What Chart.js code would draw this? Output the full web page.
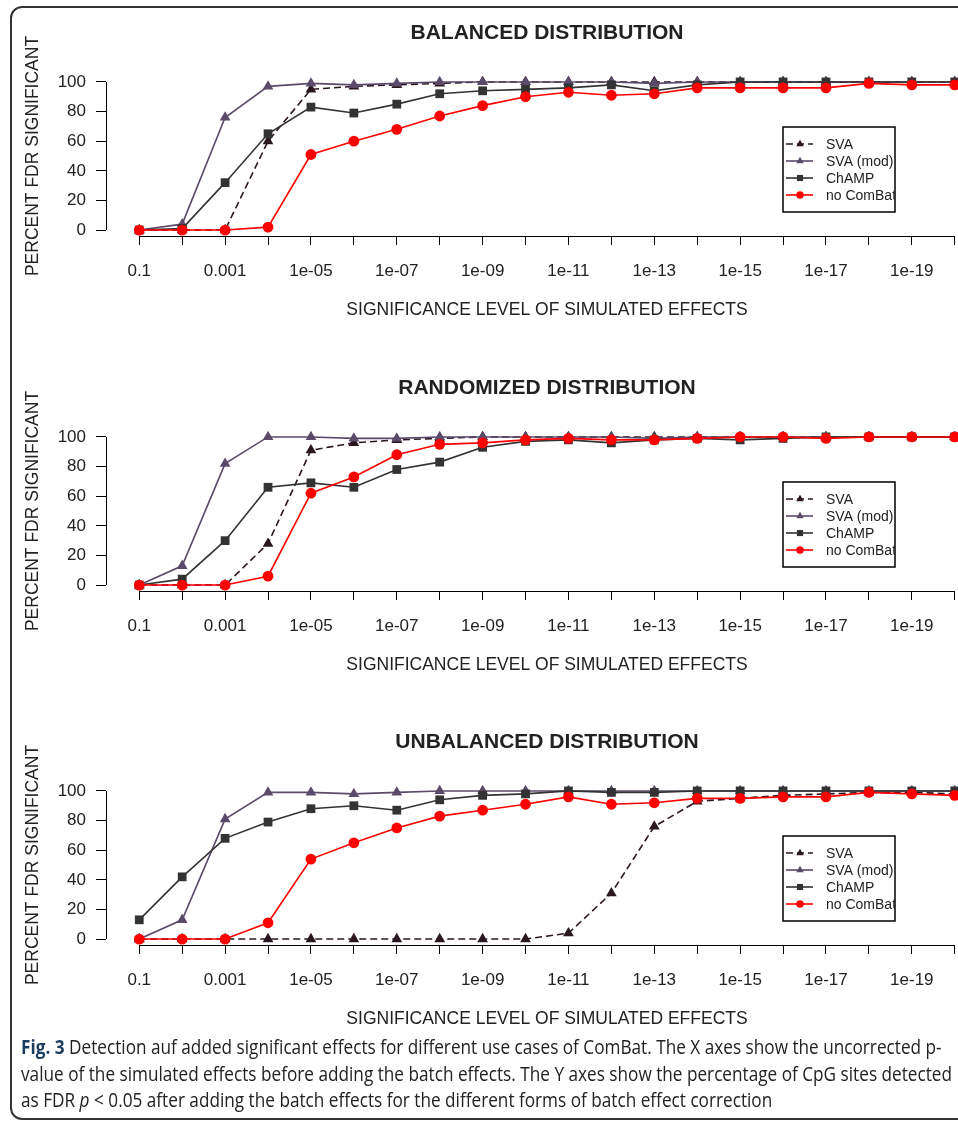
<!DOCTYPE html>
<html>
<head>
<meta charset="utf-8">
<script src="https://cdn.jsdelivr.net/npm/chart.js@4.4.0/dist/chart.umd.min.js"></script>
<style>
  html, body { margin: 0; padding: 0; background: #fff; }
  body { width: 958px; height: 1122px; overflow: hidden; position: relative; }
  #frame { position: absolute; left: 10px; top: 6px; width: 1000px; height: 1114px;
           border: 2px solid #333; border-radius: 12px; box-sizing: border-box; }
  .panel { position: absolute; left: 0; width: 1000px; height: 355px; }
  .ln { position: absolute; left: 21px; white-space: nowrap; font-family: 'Open Sans', sans-serif;
        font-size: 20px; line-height: 26px; color: #222; transform-origin: 0 50%; display: inline-block; }
  .ln b { color: #1d3d5e; }
</style>
</head>
<body>
<div id="frame"></div>
<div class="panel" style="top:0px"><canvas id="chart1" width="1000" height="355"></canvas></div>
<div class="panel" style="top:355px"><canvas id="chart2" width="1000" height="355"></canvas></div>
<div class="panel" style="top:709px"><canvas id="chart3" width="1000" height="355"></canvas></div>
<div class="ln" style="top:1034px"><b>Fig. 3</b> Detection auf added significant effects for different use cases of ComBat. The X axes show the uncorrected p-</div>
<div class="ln" style="top:1061px">value of the simulated effects before adding the batch effects. The Y axes show the percentage of CpG sites detected</div>
<div class="ln" style="top:1087px">as FDR <i>p</i> &lt; 0.05 after adding the batch effects for the different forms of batch effect correction</div>
<script>
// x categories (p-value of simulated effects)
const pLabels = ['0.1', '0.01', '0.001', '1e-04', '1e-05', '1e-06', '1e-07', '1e-08', '1e-09', '1e-10',
                 '1e-11', '1e-12', '1e-13', '1e-14', '1e-15', '1e-16', '1e-17', '1e-18', '1e-19', '1e-20'];
const yTicks = [0, 10, 20, 30, 40, 50, 60, 70, 80, 90, 100];
const seriesNames = ['SVA', 'SVA (mod)', 'ChAMP', 'no ComBat'];
const panelTitles = ['BALANCED DISTRIBUTION', 'RANDOMIZED DISTRIBUTION', 'UNBALANCED DISTRIBUTION'];

// balanced
const balSva    = [0, 0, 0, 60, 95, 97, 98, 99, 100, 100, 100, 100, 100, 100, 100, 100, 100, 100, 100, 100];
const balSvaMod = [0, 4, 76, 97, 99, 98, 99, 100, 100, 100, 100, 100, 99, 100, 100, 100, 100, 100, 100, 100];
const balChamp  = [0, 1, 32, 65, 83, 79, 85, 92, 94, 95, 96, 98, 94, 98, 100, 100, 100, 100, 100, 100];
const balNoCb   = [0, 0, 0, 2, 51, 60, 68, 77, 84, 90, 93, 91, 92, 96, 96, 96, 96, 99, 98, 98];
// randomized
const rndSva    = [0, 0, 0, 28, 91, 96, 98, 99, 100, 100, 100, 100, 100, 100, 100, 100, 100, 100, 100, 100];
const rndSvaMod = [0, 13, 82, 100, 100, 99, 99, 100, 100, 100, 100, 100, 99, 100, 100, 100, 100, 100, 100, 100];
const rndChamp  = [0, 4, 30, 66, 69, 66, 78, 83, 93, 97, 98, 96, 98, 99, 98, 99, 100, 100, 100, 100];
const rndNoCb   = [0, 0, 0, 6, 62, 73, 88, 95, 96, 98, 99, 98, 98, 99, 100, 100, 99, 100, 100, 100];
// unbalanced
const unbSva    = [0, 0, 0, 0, 0, 0, 0, 0, 0, 0, 4, 31, 76, 93, 95, 97, 98, 99, 99, 98];
const unbSvaMod = [0, 13, 81, 99, 99, 98, 99, 100, 100, 100, 100, 100, 100, 100, 100, 100, 100, 100, 100, 100];
const unbChamp  = [13, 42, 68, 79, 88, 90, 87, 94, 97, 98, 100, 99, 99, 100, 100, 100, 100, 100, 100, 100];
const unbNoCb   = [0, 0, 0, 11, 54, 65, 75, 83, 87, 91, 96, 91, 92, 95, 95, 96, 96, 99, 98, 97];

const FONT = "'Liberation Sans', Arial, Helvetica, sans-serif";
Chart.defaults.font.family = FONT;
Chart.defaults.color = '#000';

const styles = [
  { color: '#2b1620', dash: [7, 4], point: 'triangle', radius: 6.2, order: 4 },
  { color: '#5c4a6b', dash: [], point: 'triangle', radius: 6.2, order: 3 },
  { color: '#333333', dash: [], point: 'rect', radius: 6.2, order: 2 },
  { color: '#ff0000', dash: [], point: 'circle', radius: 5.4, order: 1 }
];

// R-like axes, titles and boxed legend
const rPlot = {
  id: 'rPlot',
  afterDraw(chart, args, opts) {
    const { ctx, chartArea, scales: { x, y } } = chart;
    ctx.save();
    ctx.strokeStyle = '#000';
    ctx.lineWidth = 1;
    ctx.beginPath();
    const yb = Math.round(chartArea.bottom) + 0.5;
    ctx.moveTo(x.getPixelForValue(0), yb);
    ctx.lineTo(x.getPixelForValue(pLabels.length - 1), yb);
    const xl = Math.round(chartArea.left) + 0.5;
    ctx.moveTo(xl, y.getPixelForValue(0));
    ctx.lineTo(xl, y.getPixelForValue(100));
    ctx.stroke();

    const cx = x.getPixelForValue((pLabels.length - 1) / 2);
    ctx.fillStyle = '#222';
    ctx.textAlign = 'center';
    ctx.textBaseline = 'middle';
    ctx.font = 'bold 21px ' + FONT;
    ctx.fillText(opts.title, cx, 33);
    ctx.font = '17.5px ' + FONT;
    ctx.fillText('SIGNIFICANCE LEVEL OF SIMULATED EFFECTS', cx, 310);
    ctx.save();
    ctx.translate(33, (chartArea.top + chartArea.bottom) / 2);
    ctx.rotate(-Math.PI / 2);
    ctx.fillText('PERCENT FDR SIGNIFICANT', 0, 0);
    ctx.restore();

    // legend box
    const bx = 783, by = 127, bw = 112, bh = 85;
    ctx.fillStyle = '#fff';
    ctx.fillRect(bx, by, bw, bh);
    ctx.lineWidth = 1.5;
    ctx.strokeRect(bx, by, bw, bh);
    ctx.beginPath();
    ctx.rect(bx, by, bw, bh);
    ctx.clip();
    ctx.font = '14px ' + FONT;
    ctx.textAlign = 'left';
    chart.data.datasets.forEach((ds, i) => {
      const ly = by + 17 + i * 17;
      ctx.strokeStyle = ds.borderColor;
      ctx.lineWidth = 1.6;
      ctx.setLineDash(ds.borderDash || []);
      ctx.beginPath();
      ctx.moveTo(bx + 3, ly);
      ctx.lineTo(bx + 30, ly);
      ctx.stroke();
      ctx.setLineDash([]);
      ctx.fillStyle = ds.pointBackgroundColor;
      Chart.helpers.drawPoint(ctx, { pointStyle: ds.pointStyle, radius: ds.pointRadius * 0.7, rotation: 0, borderWidth: 0 }, bx + 17, ly);
      ctx.fillStyle = '#222';
      ctx.fillText(ds.label, bx + 43, ly + 1);
    });
    ctx.restore();
  }
};

function makePanel(id, title, values) {
  const datasets = values.map((vals, i) => ({
    label: seriesNames[i],
    data: vals.map((v, k) => ({ x: k, y: v })),
    borderColor: styles[i].color,
    backgroundColor: styles[i].color,
    pointBackgroundColor: styles[i].color,
    borderDash: styles[i].dash,
    borderWidth: 1.6,
    pointStyle: styles[i].point,
    pointRadius: styles[i].radius,
    pointBorderWidth: 0,
    tension: 0,
    order: styles[i].order
  }));
  return new Chart(document.getElementById(id), {
    type: 'line',
    data: { datasets },
    options: {
      responsive: false,
      animation: false,
      devicePixelRatio: 1,
      layout: { padding: { top: 76, right: 12, left: 0, bottom: 0 } },
      plugins: { legend: { display: false }, tooltip: { enabled: false }, rPlot: { title } },
      scales: {
        x: {
          type: 'linear',
          min: -0.775,
          max: pLabels.length - 1 + 0.775,
          afterFit(scale) { scale.height = 355 - 236; },
          afterBuildTicks(scale) { scale.ticks = pLabels.map((l, k) => ({ value: k })); },
          border: { display: false },
          grid: { drawOnChartArea: false, drawTicks: true, tickLength: 9, color: '#000', lineWidth: 1 },
          ticks: {
            autoSkip: false, maxRotation: 0, padding: 16,
            font: { size: 17 }, color: '#222',
            callback: (v, k) => (k % 2 === 0 ? pLabels[k] : '')
          }
        },
        y: {
          min: -4,
          max: 104,
          afterFit(scale) { scale.width = 106; },
          afterBuildTicks(scale) { scale.ticks = yTicks.map(v => ({ value: v })); },
          border: { display: false },
          grid: { drawOnChartArea: false, drawTicks: true, tickLength: 10, color: '#000', lineWidth: 1 },
          ticks: {
            padding: 10, font: { size: 17 }, color: '#222',
            callback: v => (v % 20 === 0 ? String(v) : '')
          }
        }
      }
    },
    plugins: [rPlot]
  });
}

makePanel('chart1', panelTitles[0], [balSva, balSvaMod, balChamp, balNoCb]);
makePanel('chart2', panelTitles[1], [rndSva, rndSvaMod, rndChamp, rndNoCb]);
makePanel('chart3', panelTitles[2], [unbSva, unbSvaMod, unbChamp, unbNoCb]);

// condense caption lines to the printed width
const lines = document.querySelectorAll('.ln');
const k = 931 / lines[1].getBoundingClientRect().width;
lines.forEach(el => { el.style.transform = 'scaleX(' + k + ')'; });
</script>
</body>
</html>
